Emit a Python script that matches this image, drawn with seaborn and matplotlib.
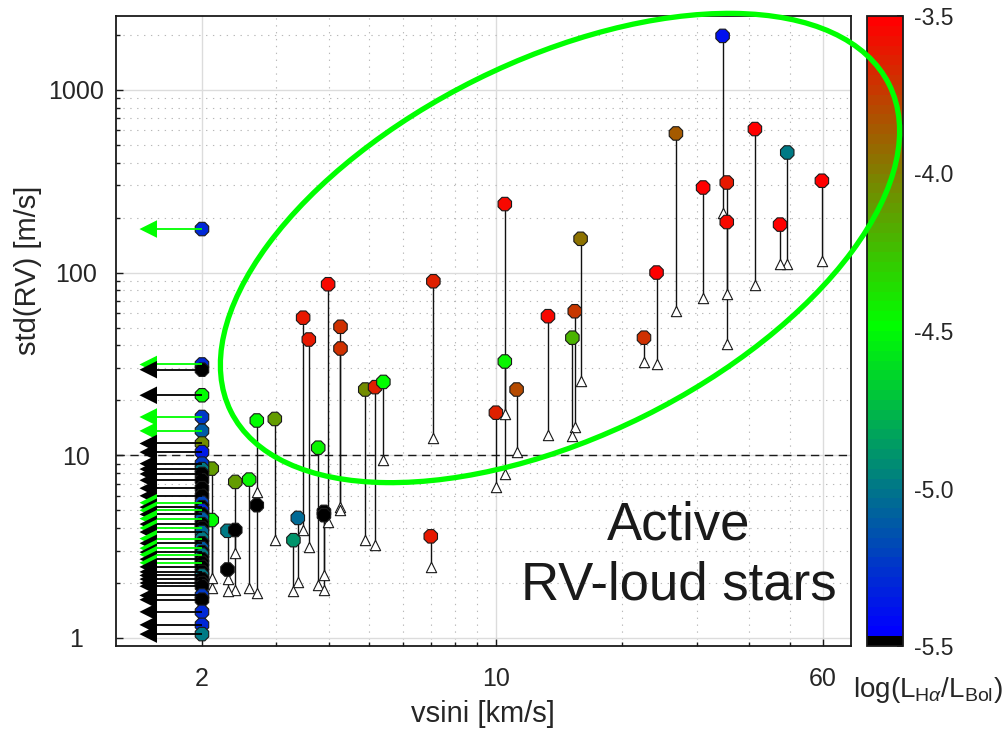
import matplotlib
matplotlib.use('Agg')
import matplotlib.pyplot as plt
import matplotlib.ticker as mtick
from matplotlib.colors import LinearSegmentedColormap, ListedColormap, Normalize
from matplotlib.cm import ScalarMappable
from matplotlib.patches import Ellipse
from matplotlib.transforms import IdentityTransform
import pandas as pd
import seaborn as sns

sns.set_theme(style='white')
plt.rcParams['font.family'] = ['Liberation Sans', 'DejaVu Sans']
plt.rcParams['axes.unicode_minus'] = False
plt.rcParams['mathtext.fontset'] = 'custom'
plt.rcParams['mathtext.rm'] = 'Liberation Sans'
plt.rcParams['mathtext.it'] = 'Liberation Sans:italic'
tc = '#262626'

# Stars with measured vsini: RV scatter (circle) and activity-corrected value (triangle)
vsini = [34.6, 26.8, 41.3, 49.3, 59.6, 35.4, 35.4, 31.1, 47.4, 24.1, 22.5,
         7.1, 10.5, 10.5, 10.0, 11.2, 13.3, 15.4, 15.2, 15.9,
         3.48, 3.59, 3.99, 4.27, 4.27, 4.89, 5.16, 5.4, 7.0,
         2.70, 2.98, 3.78, 2.40, 2.59, 2.70, 2.30, 2.40, 2.30, 3.38, 3.30, 3.90, 3.90, 2.11, 2.11]
std_rv = [1973, 577, 610, 454, 318, 311, 189, 292, 183, 100, 44,
          89.6, 237, 32.6, 17.1, 22.9, 57.7, 61.4, 44, 153,
          56.6, 43, 86.3, 50.5, 38.4, 22.9, 23.6, 25.2, 3.6,
          15.5, 15.8, 11.0, 7.15, 7.36, 5.33, 3.86, 3.9, 2.37, 4.54, 3.43, 4.9, 4.7, 8.45, 4.42]
std_rv_corr = [211, 61.4, 85.8, 111.6, 116, 76.5, 40.7, 72.8, 112, 31.5, 32.5,
               12.4, 7.9, 16.9, 6.7, 10.4, 12.9, 14.3, 12.7, 25.4,
               3.89, 3.16, 4.3, 5.2, 5.0, 3.43, 3.22, 9.4, 2.44,
               6.3, 3.43, 1.94, 2.9, 1.87, 1.76, 2.1, 1.83, 1.8, 2.03, 1.8, 2.2, 1.83, 2.13, 1.87]
log_lha = [-5.4, -3.85, -3.5, -5.0, -3.5, -3.62, -3.55, -3.52, -3.52, -3.52, -3.7,
           -3.65, -3.55, -4.45, -3.65, -3.8, -3.55, -3.72, -4.2, -3.95,
           -3.6, -3.6, -3.55, -3.7, -3.7, -4.05, -3.65, -4.5, -3.62,
           -4.5, -4.1, -4.45, -4.1, -4.45, -5.5, -5.0, -5.5, -5.5, -5.05, -4.9, -5.5, -5.5, -4.1, -4.5]

# Stars with vsini upper limit (plotted at 2 km/s with a left arrow)
lim_vsini = 2
lim_rv = [173, 31.4, 29.4, 21.3, 16.2, 13.6, 11.6, 10.4, 9.0, 8.4,
          7.9, 7.3, 6.6, 6.0, 5.5, 5.2, 5.0, 4.75, 4.5, 4.2,
          4.0, 3.8, 3.5, 3.3, 3.1, 2.95, 2.86, 2.7, 2.58, 2.45,
          2.3, 2.2, 2.1, 2.0, 1.92, 1.71, 1.62, 1.39, 1.18, 1.05]
lim_log = [-5.3, -5.3, -5.5, -4.5, -5.25, -5.1, -4.05, -5.35, -5.25, -5.0,
           -5.5, -5.5, -5.5, -5.5, -5.2, -5.5, -5.3, -5.5, -5.1, -5.5,
           -5.5, -5.05, -5.0, -5.5, -5.1, -5.5, -5.0, -5.5, -5.5, -5.5,
           -5.5, -5.0, -5.5, -5.5, -5.5, -5.25, -5.5, -5.3, -5.3, -5.0]
lim_arrow = ['g', 'g', 'k', 'k', 'g', 'g', 'k', 'k', 'k', 'k',
             'k', 'k', 'k', 'k', 'g', 'k', 'g', 'k', 'g', 'k',
             'g', 'k', 'g', 'k', 'g', 'k', 'g', 'k', 'g', 'k',
             'k', 'k', 'k', 'k', 'k', 'k', 'k', 'k', 'k', 'k']
arrow_end = 1.49

stars = pd.DataFrame({'vsini': vsini, 'std_rv': std_rv,
                      'corr': std_rv_corr, 'logL': log_lha})
limits = pd.DataFrame({'vsini': lim_vsini, 'std_rv': lim_rv,
                       'logL': lim_log, 'arrow': lim_arrow})
limits['tip'] = arrow_end

# Colour map: black lowest bin, then blue -> green -> red (64 levels)
base = LinearSegmentedColormap.from_list('bgr', [(0, 0, 1), (0, 1, 0), (1, 0, 0)])
cmap = ListedColormap([(0, 0, 0)] + [base(i / 62) for i in range(63)])
norm = Normalize(-5.5, -3.5)
arrow_pal = {'g': '#00ff00', 'k': '#000000'}

fig = plt.figure(figsize=(10.05, 7.31), dpi=100)
ax = fig.add_axes([116 / 1005, 1 - 646 / 731, 735 / 1005, 630 / 731])
cax = fig.add_axes([867 / 1005, 1 - 646 / 731, 36 / 1005, 630 / 731])

ax.set_xscale('log')
ax.set_yscale('log')
ax.set_xlim(1.249, 69.9)
ax.set_ylim(0.904, 2535)

# Grid
ax.grid(which='major', color='#dcdcdc', lw=1, ls='-', zorder=0)
ax.grid(which='minor', color='#b8b8b8', lw=0.8, ls=(0, (1.2, 5)), zorder=0)
ax.set_axisbelow(True)
ax.axhline(10, color='k', lw=1, ls=(0, (6, 4)), zorder=1)

# Lines from std(RV) down to the corrected value
ax.vlines(stars['vsini'], stars['corr'], stars['std_rv'], color='#111111', lw=1, zorder=2)
sns.scatterplot(data=stars, x='vsini', y='corr', marker='^', color='white',
                edgecolor='k', s=55, linewidth=0.8, zorder=3, ax=ax, legend=False)
sns.scatterplot(data=stars, x='vsini', y='std_rv', hue='logL', palette=cmap,
                hue_norm=norm, marker='8', s=110, edgecolor='k', linewidth=0.8,
                zorder=4, ax=ax, legend=False)

# Upper limits
sns.scatterplot(data=limits, x='vsini', y='std_rv', hue='logL', palette=cmap,
                hue_norm=norm, marker='8', s=110, edgecolor='k', linewidth=0.8,
                zorder=4, ax=ax, legend=False)
ax.hlines(limits['std_rv'], limits['tip'], limits['vsini'],
          colors=[arrow_pal[c] for c in limits['arrow']], lw=1.3, zorder=5)
sns.scatterplot(data=limits, x='tip', y='std_rv', hue='arrow', palette=arrow_pal,
                marker='<', s=160, linewidth=0, zorder=5, ax=ax, legend=False)

# Axes styling
ax.xaxis.set_major_locator(mtick.FixedLocator([2, 10, 60]))
ax.xaxis.set_major_formatter(mtick.FixedFormatter(['2', '10', '60']))
ax.xaxis.set_minor_locator(mtick.LogLocator(subs=range(1, 10), numticks=20))
ax.xaxis.set_minor_formatter(mtick.NullFormatter())
ax.yaxis.set_major_locator(mtick.FixedLocator([1, 10, 100, 1000]))
ax.yaxis.set_major_formatter(mtick.FixedFormatter(['1', '10', '100', '1000']))
ax.yaxis.set_minor_locator(mtick.LogLocator(subs=range(1, 10), numticks=20))
ax.yaxis.set_minor_formatter(mtick.NullFormatter())
ax.tick_params(which='both', direction='in', color='k', width=1,
               labelsize=18, labelcolor=tc, left=True, bottom=True)
ax.tick_params(which='major', length=5)
ax.tick_params(which='minor', length=3)
ax.tick_params(axis='x', pad=15)
ax.tick_params(axis='y', pad=29)
for lab in ax.get_yticklabels():
    lab.set_horizontalalignment('center')
for sp in ax.spines.values():
    sp.set_color('k')
    sp.set_linewidth(1.3)

ax.set_xlabel('vsini [km/s]', fontsize=21, color=tc)
ax.set_ylabel('std(RV) [m/s]', fontsize=21, color=tc)
ax.xaxis.set_label_coords(0.4993, -0.108)
ax.xaxis.label.set_va('center')
ax.yaxis.set_label_coords(-0.1197, 0.597)
ax.yaxis.label.set_va('center')

# Colorbar
cb = fig.colorbar(ScalarMappable(norm=norm, cmap=cmap), cax=cax,
                  ticks=[-5.5, -5.0, -4.5, -4.0, -3.5], format='%.1f')
cb.outline.set_edgecolor('k')
cb.outline.set_linewidth(1.3)
cax.tick_params(labelsize=16.5, labelcolor=tc, direction='in', length=4,
                color='k', right=True, pad=8)
fig.text(928 / 1005, 1 - 690 / 731, r'log(L$_{\mathrm{H}\alpha}$/L$_{\mathrm{Bol}}$)',
         fontsize=20, color=tc, ha='center', va='center')

# Annotation
fig.text(678.5 / 1005, 1 - 540 / 731, 'Active', fontsize=38, color='k',
         ha='center', va='baseline')
fig.text(678.5 / 1005, 1 - 600 / 731, 'RV-loud stars', fontsize=38, color='k',
         ha='center', va='baseline')

ell = Ellipse((560, 731 - 248), 735, 376, angle=26.4, fill=False,
              edgecolor='#00ff00', lw=3.8, transform=IdentityTransform(), zorder=10)
fig.add_artist(ell)

fig.savefig('out.png', dpi=100)
